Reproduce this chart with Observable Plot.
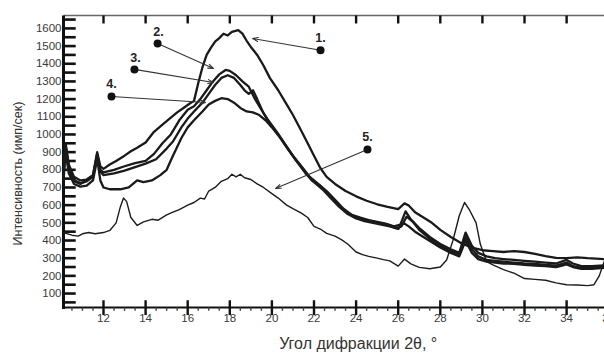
<!DOCTYPE html>
<html>
<head>
<meta charset="utf-8">
<script src="https://cdn.jsdelivr.net/npm/d3@7"></script>
<script src="https://cdn.jsdelivr.net/npm/@observablehq/plot@0.6"></script>
<style>
  html, body { margin: 0; padding: 0; background: #fff; overflow: hidden; width: 604px; height: 355px; }
  #chart svg { display: block; max-width: none !important; }
</style>
</head>
<body>
<div id="chart"></div>
<script>
// ---- data ----
const angles1 = [10.1,10.2,10.35,10.6,10.9,11.2,11.5,11.7,11.85,12.0,12.3,12.6,13.0,13.3,13.6,14.0,14.4,14.8,15.2,15.5,15.8,16.1,16.3,16.5,16.7,16.9,17.1,17.3,17.5,17.7,17.9,18.1,18.4,18.6,18.8,19.0,19.3,19.6,19.9,20.3,20.7,21.0,21.4,21.7,22.0,22.3,22.6,23.0,23.5,24.0,24.5,25.0,25.5,26.0,26.3,26.5,26.8,27.2,27.6,28.0,28.5,29.0,29.5,30.0,30.5,31.0,31.5,32.0,32.5,33.0,33.5,34.0,34.5,35.0,35.4,35.8];
const intensity1 = [770,940,820,735,720,740,770,900,820,805,830,850,880,905,925,955,1015,1055,1095,1125,1150,1175,1190,1290,1380,1450,1490,1525,1545,1570,1560,1580,1590,1570,1530,1495,1450,1390,1320,1250,1170,1110,1020,950,880,810,760,720,680,650,625,605,590,578,610,598,560,530,500,460,420,385,360,345,340,335,340,335,325,312,302,300,305,300,298,295];

const angles2 = [10.1,10.2,10.35,10.6,10.9,11.2,11.5,11.7,11.85,12.0,12.5,13.0,13.5,14.0,14.4,14.8,15.2,15.6,16.0,16.3,16.6,16.9,17.2,17.5,17.8,18.0,18.3,18.6,18.9,19.2,19.5,19.8,20.2,20.6,21.0,21.4,21.8,22.2,22.6,23.0,23.4,23.8,24.2,24.6,25.0,25.4,25.8,26.1,26.35,26.6,27.0,27.5,28.0,28.5,28.9,29.2,29.5,29.8,30.2,30.6,31.0,31.5,32.0,32.5,33.0,33.5,34.0,34.3,34.7,35.2,35.8];
const intensity2 = [785,930,800,740,725,735,760,885,800,785,800,820,838,850,890,950,1000,1080,1140,1160,1200,1250,1300,1340,1365,1360,1335,1300,1270,1200,1140,1085,1020,950,880,820,760,720,680,630,580,545,530,515,505,495,480,490,565,520,470,420,380,350,330,445,370,330,310,300,295,290,285,280,275,270,290,270,255,255,260];

const angles3 = [10.1,10.2,10.35,10.6,10.9,11.2,11.5,11.7,11.85,12.0,12.5,13.0,13.5,14.0,14.5,15.0,15.3,15.7,16.0,16.3,16.7,17.0,17.3,17.6,17.9,18.2,18.5,18.7,18.9,19.1,19.3,19.6,19.9,20.3,20.7,21.1,21.5,21.9,22.3,22.7,23.1,23.5,23.9,24.3,24.7,25.1,25.5,25.9,26.15,26.4,26.7,27.0,27.5,28.0,28.5,28.9,29.2,29.5,29.8,30.2,30.6,31.0,31.5,32.0,32.5,33.0,33.5,34.0,34.3,34.7,35.2,35.8];
const intensity3 = [800,950,830,760,740,745,770,890,790,770,780,795,815,835,860,920,960,1040,1090,1130,1180,1230,1280,1320,1335,1320,1280,1250,1230,1250,1200,1120,1060,1000,930,860,800,740,710,660,610,565,535,520,510,500,490,470,480,535,505,460,410,370,340,320,420,350,310,290,285,280,275,270,268,262,258,275,255,245,248,250];

const angles4 = [10.1,10.2,10.35,10.6,10.9,11.2,11.5,11.7,11.85,12.0,12.3,12.8,13.2,13.6,13.9,14.3,14.7,15.0,15.3,15.7,16.0,16.3,16.7,17.0,17.3,17.6,17.9,18.2,18.5,18.8,19.1,19.4,19.7,20.0,20.4,20.8,21.2,21.6,22.0,22.4,22.8,23.2,23.6,24.0,24.4,24.8,25.2,25.6,26.0,26.25,26.5,26.8,27.2,27.6,28.0,28.5,28.9,29.2,29.5,29.8,30.2,30.6,31.0,31.5,32.0,32.5,33.0,33.5,34.0,34.3,34.7,35.2,35.8];
const intensity4 = [740,900,780,720,705,710,740,860,740,700,690,690,700,740,730,740,770,800,880,980,1040,1080,1130,1170,1190,1205,1200,1180,1150,1130,1125,1110,1080,1040,980,910,845,780,730,690,640,590,550,525,510,500,490,480,465,500,480,450,420,390,360,330,310,400,330,295,280,275,270,268,262,258,255,250,265,250,240,240,245];

const angles5 = [10.1,10.5,10.8,11.0,11.3,11.6,12.0,12.3,12.6,12.8,12.95,13.1,13.3,13.6,13.9,14.3,14.6,15.0,15.3,15.6,16.0,16.3,16.6,16.8,17.0,17.3,17.6,17.9,18.1,18.3,18.5,18.7,19.0,19.3,19.6,20.0,20.3,20.7,21.0,21.4,21.7,22.0,22.3,22.6,23.0,23.3,23.6,24.0,24.3,24.6,25.0,25.3,25.6,26.0,26.3,26.6,27.0,27.5,28.0,28.3,28.6,28.9,29.15,29.4,29.7,29.9,30.2,30.5,31.0,31.5,32.0,32.5,33.0,33.5,34.0,34.5,35.0,35.3,35.55,35.8];
const intensity5 = [445,430,425,438,445,438,445,457,500,590,640,620,530,485,505,520,515,545,560,575,600,615,640,635,680,700,735,750,775,760,775,755,745,720,700,665,640,600,580,555,530,480,465,440,425,405,380,335,320,310,300,292,285,255,295,268,248,240,250,290,400,540,615,570,500,380,280,262,235,215,185,180,175,160,150,148,145,150,200,285];

// axis ticks / labels
const xTickLabels = [12,14,16,18,20,22,24,26,28,30,32,34,36];
const yTickLabels = [100,200,300,400,500,600,700,800,900,1000,1100,1200,1300,1400,1500,1600];
const yTickMarks = d3.range(50, 1651, 50);
const xMinorTicks = d3.range(10.5, 36.6, 0.5).filter(v => v % 2 !== 0);

// annotations
const annLabels = ["1.", "2.", "3.", "4.", "5."];
const annLabelX = [22.31, 14.61, 13.52, 12.38, 24.54];
const annLabelY = [1548, 1582, 1435, 1288, 988];
const annDotX = [22.31, 14.57, 13.47, 12.38, 24.54];
const annDotY = [1476, 1515, 1368, 1215, 915];
const annTipX = [19.08, 17.23, 17.23, 16.85, 20.17];
const annTipY = [1543, 1373, 1294, 1181, 694];

const xTitle = "Угол дифракции 2θ, °";
const yTitle = "Интенсивность (имп/сек)";

// ---- build tables ----
const seriesList = [
  {name: "1", a: angles1, v: intensity1},
  {name: "2", a: angles2, v: intensity2},
  {name: "3", a: angles3, v: intensity3},
  {name: "4", a: angles4, v: intensity4},
  {name: "5", a: angles5, v: intensity5}
];
const rows = seriesList.flatMap(s => {
  const n = Math.min(s.a.length, s.v.length);
  return d3.range(n).map(i => ({series: s.name, angle: s.a[i], value: s.v[i]}));
});
const thick = rows.filter(d => d.series !== "5");
const thin = rows.filter(d => d.series === "5");
const ann = annLabels.map((t, i) => ({
  t, lx: annLabelX[i], ly: annLabelY[i], px: annDotX[i], py: annDotY[i], tx: annTipX[i], ty: annTipY[i]
}));

const X0 = 10.1, X1 = 36.56, Y0 = 21, Y1 = 1673;
const FONT = "Liberation Sans, Arial, sans-serif";

const yTickSegs = yTickMarks.map(v => ({xa: X0, xb: X0 + 0.58, ya: v, yb: v}));
const xMajorBottom = xTickLabels.map(v => ({xa: v, xb: v, ya: -22, yb: 62}));
const xMajorTop = xTickLabels.map(v => ({xa: v, xb: v, ya: Y1, yb: Y1 - 45}));
const xMinorSegs = xMinorTicks.map(v => ({xa: v, xb: v, ya: 2, yb: 21}));

const chart = Plot.plot({
  width: 620,
  height: 355,
  marginLeft: 63,
  marginRight: 0,
  marginTop: 15,
  marginBottom: 48,
  style: {fontFamily: FONT, background: "#fff", overflow: "visible"},
  x: {domain: [X0, X1]},
  y: {domain: [Y0, Y1]},
  marks: [
    Plot.axisY({ticks: yTickLabels, tickSize: 0, tickPadding: 2, fontSize: 11.5, fill: "#3a3a3a", label: null, tickFormat: d => String(d)}),
    Plot.axisX({ticks: xTickLabels, tickSize: 0, tickPadding: 6, fontSize: 11.5, fill: "#3a3a3a", label: null, tickFormat: d => String(d)}),
    // frame
    Plot.link([{xa: X0, xb: X1, ya: Y1, yb: Y1}], {x1: "xa", x2: "xb", y1: "ya", y2: "yb", stroke: "#666", strokeWidth: 1.5}),
    Plot.link([{xa: X0, xb: X1, ya: Y0, yb: Y0}], {x1: "xa", x2: "xb", y1: "ya", y2: "yb", stroke: "#111", strokeWidth: 2}),
    Plot.link([{xa: X0, xb: X0, ya: Y0 - 8, yb: Y1}], {x1: "xa", x2: "xb", y1: "ya", y2: "yb", stroke: "#111", strokeWidth: 3}),
    // ticks
    Plot.link(yTickSegs, {x1: "xa", x2: "xb", y1: "ya", y2: "yb", stroke: "#111", strokeWidth: 2.6}),
    Plot.link(xMajorBottom, {x1: "xa", x2: "xb", y1: "ya", y2: "yb", stroke: "#111", strokeWidth: 2.4}),
    Plot.link(xMinorSegs, {x1: "xa", x2: "xb", y1: "ya", y2: "yb", stroke: "#444", strokeWidth: 1.4}),
    Plot.link(xMajorTop, {x1: "xa", x2: "xb", y1: "ya", y2: "yb", stroke: "#111", strokeWidth: 2.4}),
    // curves
    Plot.line(thin, {x: "angle", y: "value", z: "series", stroke: "#1c1c1c", strokeWidth: 1.4, strokeLinejoin: "round"}),
    Plot.line(thick, {x: "angle", y: "value", z: "series", stroke: "#1a1a1a", strokeWidth: 2.3, strokeLinejoin: "round"}),
    // annotations
    Plot.arrow(ann, {x1: "px", y1: "py", x2: "tx", y2: "ty", stroke: "#333", strokeWidth: 1.1, headLength: 8, headAngle: 40}),
    Plot.dot(ann, {x: "px", y: "py", r: 4, fill: "#111", stroke: "none"}),
    Plot.text(ann, {x: "lx", y: "ly", text: "t", fontSize: 12.5, fontWeight: "bold", fill: "#222", lineAnchor: "middle"}),
    // titles
    Plot.text([xTitle], {x: 24.1, y: Y0, dy: 36, text: d => d, fontSize: 16, fill: "#333", lineAnchor: "middle"}),
    Plot.text([yTitle], {frameAnchor: "left", dx: -46, dy: 12, text: d => d, rotate: -90, fontSize: 12.5, fill: "#333", lineAnchor: "middle", textAnchor: "middle"})
  ]
});
document.getElementById("chart").appendChild(chart);
</script>
</body>
</html>
